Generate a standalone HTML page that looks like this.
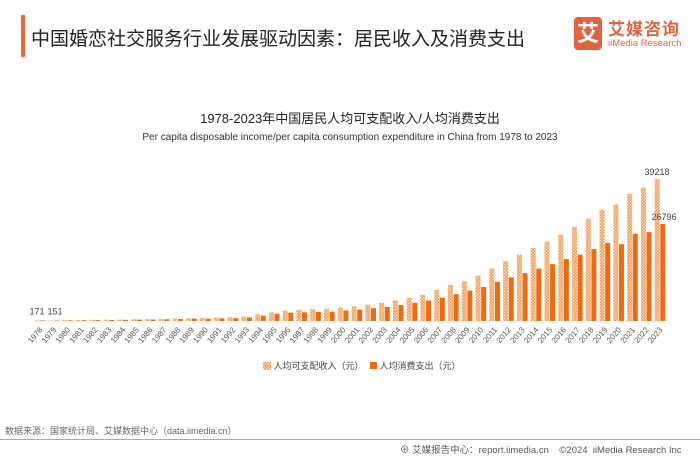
<!DOCTYPE html>
<html><head><meta charset="utf-8">
<style>
html,body{margin:0;padding:0;background:#fff;}
body{width:700px;height:455px;position:relative;overflow:hidden;font-family:"Liberation Sans","Noto Sans CJK SC",sans-serif;}
.abs{position:absolute;}
</style></head>
<body>
<div class="abs" style="left:21px;top:15px;width:4px;height:42px;background:#f0643a;"></div>
<div class="abs" style="left:31px;top:24px;font-size:19px;color:#222;white-space:nowrap;">中国婚恋社交服务行业发展驱动因素：居民收入及消费支出</div>
<div class="abs" style="left:574px;top:17px;width:28px;height:33px;background:#e2643f;border-radius:4px;color:#fff;font-size:22px;font-weight:bold;text-align:center;line-height:33px;">艾</div>
<div class="abs" style="left:608px;top:15px;font-size:17px;font-weight:bold;color:#e2643f;letter-spacing:1px;">艾媒咨询</div>
<div class="abs" style="left:608px;top:38px;font-size:9.5px;color:#e2643f;">iiMedia Research</div>

<div class="abs" style="left:0;width:700px;top:108px;text-align:center;font-size:13px;color:#222;">1978-2023年中国居民人均可支配收入/人均消费支出</div>
<div class="abs" style="left:0;width:700px;top:132px;text-align:center;font-size:10px;color:#333;">Per capita disposable income/per capita consumption expenditure in China from 1978 to 2023</div>

<svg class="abs" style="left:0;top:0" width="700" height="455">
<defs>
<pattern id="hatch" width="3" height="3" patternUnits="userSpaceOnUse">
<rect width="3" height="3" fill="#f39a55"/>
<rect x="0" y="0" width="1.3" height="1.3" fill="#fde3cc"/>
<rect x="1.5" y="1.5" width="1.3" height="1.3" fill="#fde3cc"/>
</pattern>
</defs>
<g id="bars"></g>
<g id="labels"></g>
</svg>

<div class="abs" style="left:263px;top:359px;font-size:9px;color:#444;white-space:nowrap;">
<span><svg width="8" height="8" style="vertical-align:-1px"><rect width="8" height="8" fill="url(#hatch)"/></svg> 人均可支配收入（元）</span>
<span style="margin-left:4px;"><span style="display:inline-block;width:7px;height:7px;background:#f26a10;"></span> 人均消费支出（元）</span>
</div>

<div class="abs" style="left:5px;top:424px;font-size:9px;color:#666;">数据来源：国家统计局、艾媒数据中心（data.iimedia.cn）</div>
<div class="abs" style="left:0;top:439px;width:700px;height:1px;background:#aaa;"></div>
<div class="abs" style="left:400px;top:442px;font-size:9.5px;color:#555;white-space:nowrap;">⊕ 艾媒报告中心：report.iimedia.cn &nbsp;&nbsp; ©2024 &nbsp;iiMedia Research Inc</div>

<script>
const years = [];
for (let y = 1978; y <= 2023; y++) years.push(y);
const income = [171,151,250,280,330,360,410,480,520,580,700,780,830,910,1050,1300,1900,2400,2850,3100,3300,3400,3700,4070,4530,5010,5660,6385,7230,8580,9960,10980,12520,14550,16510,18311,20167,21966,23821,25974,28228,30733,32189,35128,36883,39218];
const consumption = [151,130,190,220,250,280,310,380,420,470,580,640,660,710,800,1000,1470,2000,2300,2400,2500,2600,2914,3140,3550,3900,4400,5035,5630,6430,7400,8380,9380,10820,12054,13220,14491,15712,17111,18322,19853,21559,21210,24100,24538,26796];
const labelIdx = [0, 45];

const NS = "http://www.w3.org/2000/svg";
const baseY = 321, maxV = 39218, maxH = 142;
const x0 = 40, step = (660 - 40) / (years.length - 1), bw = 5;
function yScale(v){ return baseY - v / maxV * maxH; }
function xScale(i){ return x0 + i * step; }
const gb = document.getElementById('bars');
const gl = document.getElementById('labels');
years.forEach((yr, i) => {
  const cx = xScale(i);
  const r1 = document.createElementNS(NS, 'rect');
  r1.setAttribute('x', cx - bw - 0.3); r1.setAttribute('y', yScale(income[i]));
  r1.setAttribute('width', bw); r1.setAttribute('height', Math.max(0.6, baseY - yScale(income[i])));
  r1.setAttribute('fill', 'url(#hatch)');
  
  
  gb.appendChild(r1);
  const r2 = document.createElementNS(NS, 'rect');
  r2.setAttribute('x', cx + 0.3); r2.setAttribute('y', yScale(consumption[i]));
  r2.setAttribute('width', bw); r2.setAttribute('height', Math.max(0.6, baseY - yScale(consumption[i])));
  r2.setAttribute('fill', '#f26a10');
  
  
  gb.appendChild(r2);
  const t = document.createElementNS(NS, 'text');
  t.setAttribute('x', cx + 3); t.setAttribute('y', 330);
  t.setAttribute('transform', `rotate(-50 ${cx + 3} 330)`);
  t.setAttribute('text-anchor', 'end');
  t.setAttribute('font-size', '8'); t.setAttribute('fill', '#555');
  t.textContent = yr;
  
  
  gl.appendChild(t);
});
labelIdx.forEach(i => {
  const cx = xScale(i);
  const a = document.createElementNS(NS, 'text');
  a.setAttribute('x', cx - 3); a.setAttribute('y', yScale(income[i]) - (i === 0 ? 6 : 4));
  a.setAttribute('text-anchor', 'middle'); a.setAttribute('font-size', '9'); a.setAttribute('fill', '#444');
  a.textContent = income[i];
  
  
  gl.appendChild(a);
  const b = document.createElementNS(NS, 'text');
  b.setAttribute('x', i === 0 ? cx + 15 : cx + 4); b.setAttribute('y', yScale(consumption[i]) - (i === 0 ? 6 : 4));
  b.setAttribute('text-anchor', 'middle'); b.setAttribute('font-size', '9'); b.setAttribute('fill', '#444');
  b.textContent = consumption[i];
  
  
  gl.appendChild(b);
});
</script>
</body></html>
